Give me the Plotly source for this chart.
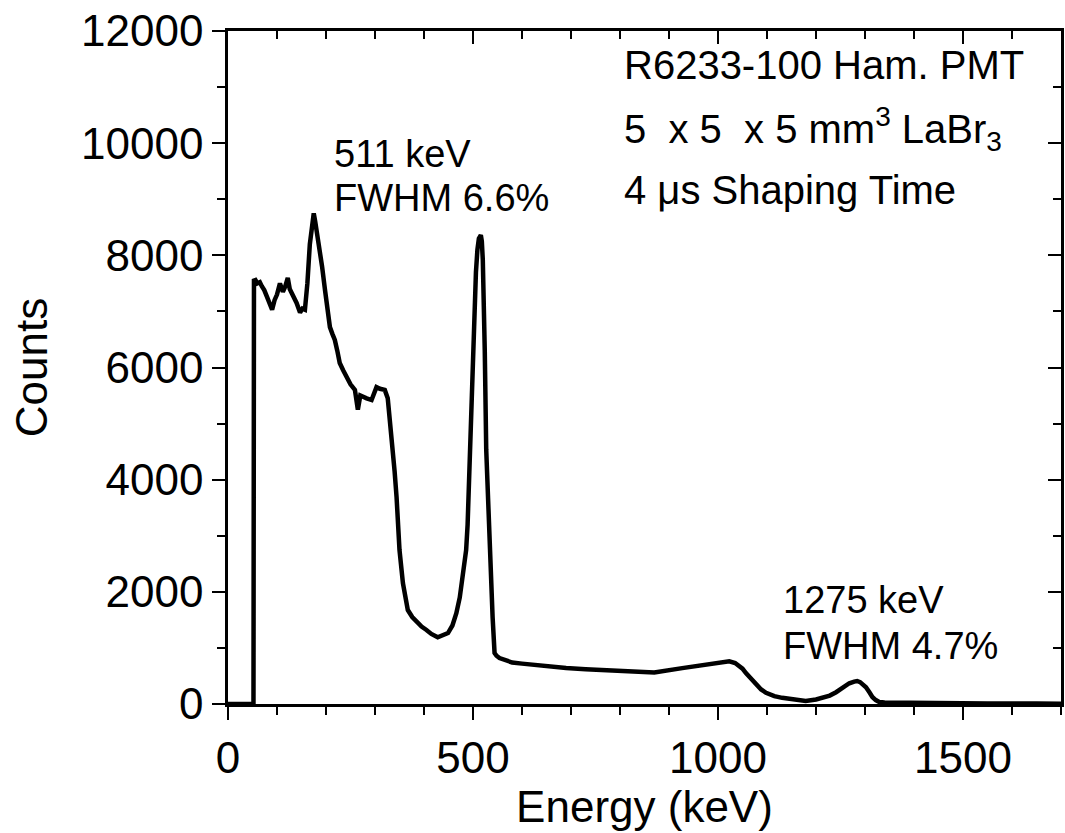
import plotly.graph_objects as go

energy_kev = [0, 52, 53, 56, 60, 65, 69, 74, 80, 85, 90, 95, 100, 106, 112, 117, 122, 126, 130,
              135, 140, 147, 152, 157, 162, 167, 171, 175, 178, 182, 187, 192, 198, 203, 208, 213,
              218, 223, 228, 235, 242, 250, 259, 265, 270, 276, 283, 293, 298, 303, 310, 320, 326,
              330, 334, 337, 340, 344, 350, 357, 367, 376, 385, 395, 405, 415, 428, 438, 449, 458,
              466, 473, 479, 486, 489, 493, 497, 500, 503, 506, 509, 512, 516, 518, 520, 522, 524,
              527, 530, 534, 537, 540, 544, 548, 554, 565, 580, 600, 620, 650, 690, 730, 780, 826,
              870, 927, 960, 996, 1010, 1023, 1035, 1040, 1050, 1057, 1068, 1078, 1088, 1098, 1115,
              1131, 1155, 1179, 1200, 1213, 1228, 1241, 1255, 1268, 1278, 1284, 1290, 1302, 1309,
              1315, 1322, 1329, 1340, 1380, 1450, 1550, 1650, 1700]
counts = [0, 0, 7550, 7560, 7500, 7520, 7450, 7380, 7250, 7150, 7030, 7200, 7300, 7500, 7350, 7450,
          7600, 7400, 7330, 7250, 7150, 6980, 7050, 7030, 7500, 8200, 8500, 8750, 8600, 8400, 8150,
          7800, 7380, 7050, 6720, 6600, 6490, 6300, 6080, 5950, 5830, 5700, 5600, 5250, 5500, 5470,
          5450, 5420, 5550, 5650, 5620, 5600, 5450, 5120, 4800, 4530, 4150, 3690, 2745, 2155, 1675,
          1550, 1460, 1380, 1320, 1250, 1190, 1220, 1265, 1400, 1620, 1900, 2265, 2745, 3200, 4200,
          5720, 6500, 7200, 7700, 8100, 8300, 8360, 8250, 7920, 7200, 6310, 4530, 3700, 2745, 2100,
          1550, 910, 860, 820, 780, 740, 720, 700, 680, 640, 620, 600, 570, 560, 640, 680, 730, 740,
          760, 730, 700, 630, 550, 440, 340, 260, 200, 140, 110, 75, 55, 80, 110, 150, 210, 290, 370,
          400, 410, 390, 300, 210, 125, 70, 35, 25, 20, 15, 10, 8, 5]

x_ticks = [0, 500, 1000, 1500]
x_labels = ["0", "500", "1000", "1500"]
y_ticks = [0, 2000, 4000, 6000, 8000, 10000, 12000]
y_labels = ["0", "2000", "4000", "6000", "8000", "10000", "12000"]

FONT = "Arial, Liberation Sans, sans-serif"

fig = go.Figure()
fig.add_trace(go.Scatter(x=energy_kev, y=counts, mode="lines",
                         line=dict(color="black", width=4.5), showlegend=False))
fig.add_trace(go.Scatter(x=energy_kev, y=counts, xaxis="x2", yaxis="y2", mode="lines",
                         line=dict(color="rgba(0,0,0,0)", width=0), showlegend=False,
                         hoverinfo="skip"))

ax_common = dict(showgrid=False, zeroline=False, showline=True, linecolor="black", linewidth=2.5,
                 tickwidth=2, ticklen=13, tickmode="array", tickcolor="black")
minor_out = dict(ticks="outside", ticklen=8, tickwidth=2, tickcolor="black")
minor_in = dict(ticks="inside", ticklen=8, tickwidth=2, tickcolor="black")

fig.update_layout(
    width=1065, height=833,
    margin=dict(l=228, r=4, t=31, b=129),
    paper_bgcolor="white", plot_bgcolor="rgba(0,0,0,0)",
    font=dict(family=FONT, color="black"),
    xaxis=dict(range=[0, 1700], tickvals=x_ticks, ticktext=x_labels, ticks="outside",
               domain=[0, 1], automargin=True,
               tickfont=dict(family=FONT, size=44, color="black"),
               minor=dict(dtick=100, **minor_out),
               title=dict(text="Energy (keV)", font=dict(family=FONT, size=44), standoff=6),
               **ax_common),
    yaxis=dict(range=[0, 12000], tickvals=y_ticks, ticktext=y_labels, ticks="outside",
               domain=[0, 1], automargin=True,
               tickfont=dict(family=FONT, size=44, color="black"),
               minor=dict(dtick=1000, **minor_out),
               title=dict(text="Counts", font=dict(family=FONT, size=44), standoff=20),
               **ax_common),
    xaxis2=dict(range=[0, 1700], side="top", overlaying="x", anchor="y",
                tickvals=x_ticks, ticks="inside", showticklabels=False,
                minor=dict(dtick=100, **minor_in),
                **ax_common),
    yaxis2=dict(range=[0, 12000], side="right", overlaying="y", anchor="x",
                tickvals=y_ticks, ticks="inside", showticklabels=False,
                minor=dict(dtick=1000, **minor_in),
                **ax_common),
)

notes = [
    ("511 keV", 212, 9815, 38),
    ("FWHM 6.6%", 212, 9031, 38),
    ("R6233-100 Ham. PMT", 805, 11393, 40),
    ("5\u00a0\u00a0x 5\u00a0\u00a0x 5 mm<sup>3</sup> LaBr<sub>3</sub>", 805, 10261, 40),
    ("4 \u03bcs Shaping Time", 805, 9165, 40),
    ("1275 keV", 1129, 1854, 38),
    ("FWHM 4.7%", 1129, 1043, 38),
]
for text, x, y, size in notes:
    fig.add_annotation(x=x, y=y, text=text, showarrow=False, xanchor="left", yanchor="middle",
                       font=dict(family=FONT, size=size, color="black"))

fig.write_html("out.html")
